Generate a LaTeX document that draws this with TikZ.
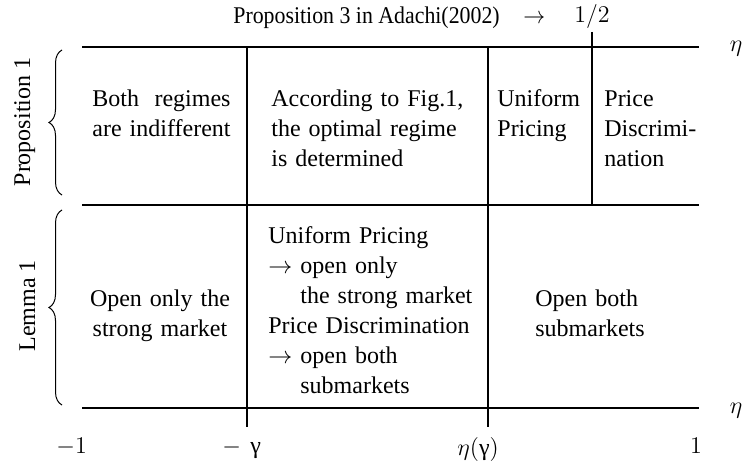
\documentclass[tikz,border=0pt]{standalone}
\usepackage{fontspec}
\setmainfont{Liberation Serif}
\usepackage{graphicx}
\usetikzlibrary{decorations.pathreplacing}

\begin{document}
\begin{tikzpicture}[x=0.5pt,y=-0.5pt,
  axisline/.style={line width=0.9pt},
  divider/.style={line width=0.8pt},
  cell/.style={anchor=base west, inner sep=0pt, align=left, text width=140pt,
               font=\fontsize{12}{15}\selectfont},
  ccell/.style={anchor=base, inner sep=0pt, align=center, text width=140pt,
               font=\fontsize{12}{15}\selectfont},
  axlabel/.style={inner sep=0pt, font=\fontsize{12}{14.4}\selectfont},
  sidelabel/.style={inner sep=0pt, rotate=90, anchor=base, font=\fontsize{12}{14.4}\selectfont},
  bracket/.style={decorate, decoration={brace, amplitude=6.5pt}, line width=0.5pt}]
\useasboundingbox (0,0) rectangle (743,470);

% frame corners and tick ends
\coordinate (tl) at (82,47);   \coordinate (tr) at (699,47);
\coordinate (ml) at (82,205);  \coordinate (mr) at (699,205);
\coordinate (bl) at (82,408);  \coordinate (br) at (699,408);
\coordinate (ga) at (247,47);  \coordinate (gb) at (247,427);
\coordinate (ea) at (488,47);  \coordinate (eb) at (488,427);
\coordinate (ha) at (592,32);  \coordinate (hb) at (592,205);

% horizontal axes
\draw[axisline] (tl) -- (tr);
\draw[axisline] (ml) -- (mr);
\draw[axisline] (bl) -- (br);

% vertical dividers
\draw[divider] (ga) -- (gb);
\draw[divider] (ea) -- (eb);
\draw[divider] (ha) -- (hb);

% axis labels
\node[axlabel, anchor=base] (etatop) at (736,52) {$\eta$};
\node[axlabel, anchor=base] (etabot) at (736,413) {$\eta$};
\node[axlabel, anchor=base] (half) at (592,23) {$1/2$};
\node[axlabel, anchor=base west] (prop3) at (233,24)
  {\scalebox{0.91}[1]{Proposition 3 in Adachi(2002)\hspace{13pt}$\rightarrow$}};
\node[axlabel, anchor=base west] (mone) at (56,453) {$-1$};
\node[axlabel, anchor=base west] (mgam) at (222,453) {$-\mkern7mu$γ};
\node[axlabel, anchor=base west] (etag) at (457,455) {$\eta($γ$)$};
\node[axlabel, anchor=base] (one) at (696,453) {$1$};

% braces with their labels
\coordinate (pb) at (62,195); \coordinate (pt) at (62,50);
\coordinate (lb) at (62,405); \coordinate (lt) at (62,210);
\draw[bracket] (pb) -- (pt);
\draw[bracket] (lb) -- (lt);
\node[sidelabel] (prop1) at (30,122) {Proposition 1};
\node[sidelabel] (lem1) at (35,306) {Lemma 1};

% upper row
\node[cell] (indiff) at (92,107)
  {\setbox0\hbox{are indifferent}\leavevmode\hbox to \wd0{Both\hfill regimes}\\are indifferent};
\node[cell] (fig1) at (271,107)
  {According to Fig.1,\\the optimal regime\\is determined};
\node[cell] (unif) at (497,107) {Uniform\\Pricing};
\node[cell] (pdisc) at (604,107) {Price\\Discrimi-\\nation};

% lower row
\node[ccell] (strong) at (160,306) {Open only the\\strong market};
\node[cell] (mixed) at (268,243)
  {Uniform Pricing\\
   $\rightarrow$ open only\\
   \phantom{$\rightarrow$} the strong market\\
   Price Discrimination\\
   $\rightarrow$ open both\\
   \phantom{$\rightarrow$} submarkets};
\node[cell] (both) at (535,306) {Open both\\submarkets};
\end{tikzpicture}
\end{document}
